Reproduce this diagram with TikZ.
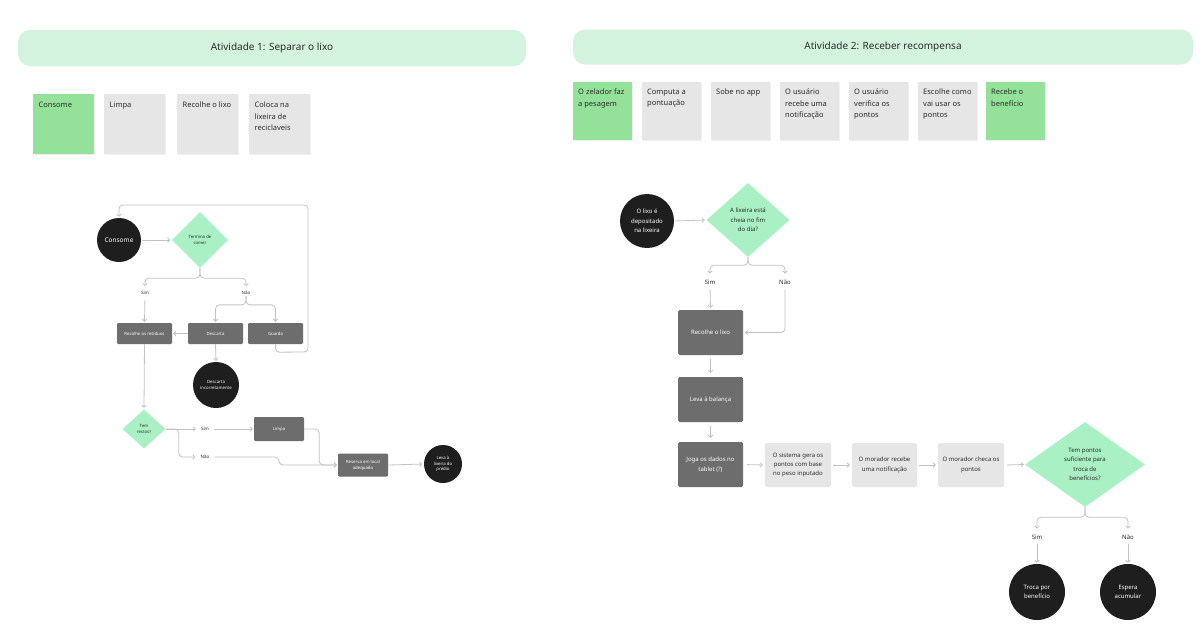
\documentclass[tikz,border=0pt]{standalone}
\usepackage{fontspec}
\setmainfont{Noto Sans}
\usetikzlibrary{arrows.meta,shapes.geometric,shadows}
\definecolor{hdrc}{HTML}{D3F3DE}
\definecolor{stgreen}{HTML}{94E29A}
\definecolor{stgrey}{HTML}{E6E6E6}
\definecolor{dboxc}{HTML}{6D6D6D}
\definecolor{blkc}{HTML}{1E1E1E}
\definecolor{diac}{HTML}{A9F0C4}
\definecolor{connc}{HTML}{C2C2C2}
\definecolor{txtc}{HTML}{2B2B2B}
\begin{document}
\begin{tikzpicture}[x=1pt,y=-1pt,
  hdr/.style={fill=hdrc, rounded corners=12pt, text=txtc, font=\fontsize{10}{12}\selectfont, inner sep=0pt},
  sticky/.style={anchor=north west, inner xsep=5pt, inner ysep=7pt, text=txtc,
     font=\fontsize{7.5}{11.3}\selectfont,
     drop shadow={opacity=0.12,shadow xshift=0.6pt,shadow yshift=-0.8pt}},
  dboxL/.style={rectangle, fill=dboxc, text=white, rounded corners=1.2pt, inner sep=0.5pt, align=center, font=\fontsize{4.3}{5.8}\selectfont},
  dboxR/.style={rectangle, fill=dboxc, text=white, rounded corners=1.5pt, inner sep=1pt, align=center, font=\fontsize{6}{9.4}\selectfont},
  lboxR/.style={rectangle, fill=stgrey, text=txtc, rounded corners=1.5pt, inner sep=1pt, align=center, font=\fontsize{6}{9.4}\selectfont},
  circL/.style={circle, fill=blkc, text=white, inner sep=0pt, align=center, font=\fontsize{4.3}{5.8}\selectfont},
  circR/.style={circle, fill=blkc, text=white, inner sep=0pt, align=center, font=\fontsize{6}{9.4}\selectfont},
  diaL/.style={diamond, fill=diac, text=txtc, inner sep=0pt, align=center, font=\fontsize{4.3}{5.8}\selectfont\bfseries},
  diaR/.style={diamond, fill=diac, text=txtc, inner sep=0pt, align=center, font=\fontsize{6}{9.4}\selectfont},
  lblL/.style={inner sep=1pt, text=txtc, font=\fontsize{4.5}{5.5}\selectfont\bfseries},
  lblR/.style={inner sep=1pt, text=txtc, font=\fontsize{6}{7}\selectfont},
  con/.style={draw=connc, line width=0.8pt, rounded corners=4pt, -{Straight Barb[length=2.2pt,width=4.5pt]}},
]
\useasboundingbox[fill=white] (0,0) rectangle (1200,637);

% ---------- headers ----------
\node[hdr, minimum width=508pt, minimum height=36pt] (h1) at (272,48) {Atividade 1: Separar o lixo};
\node[hdr, minimum width=620pt, minimum height=35pt] (h2) at (883,47) {Atividade 2: Receber recompensa};

% ---------- sticky notes, activity 1 ----------
\node[sticky, fill=stgreen, minimum width=61pt, minimum height=60pt] (a1) at (33,94) {\parbox[t][44pt][t]{50pt}{\raggedright Consome}};
\node[sticky, fill=stgrey, minimum width=61pt, minimum height=60pt] (a2) at (104,94) {\parbox[t][44pt][t]{50pt}{\raggedright Limpa}};
\node[sticky, fill=stgrey, minimum width=61pt, minimum height=60pt] (a3) at (177,94) {\parbox[t][44pt][t]{50pt}{\raggedright Recolhe o lixo}};
\node[sticky, fill=stgrey, minimum width=61pt, minimum height=60pt] (a4) at (249,94) {\parbox[t][44pt][t]{50pt}{\raggedright Coloca na\\ lixeira de\\ reciclaveis}};

% ---------- sticky notes, activity 2 ----------
\node[sticky, fill=stgreen, minimum width=59pt, minimum height=58pt] (b1) at (573,82) {\parbox[t][44pt][t]{49pt}{\raggedright O zelador faz\\ a pesagem}};
\node[sticky, fill=stgrey, minimum width=59pt, minimum height=58pt] (b2) at (642,82) {\parbox[t][44pt][t]{49pt}{\raggedright Computa a\\ pontuação}};
\node[sticky, fill=stgrey, minimum width=59pt, minimum height=58pt] (b3) at (711,82) {\parbox[t][44pt][t]{49pt}{\raggedright Sobe no app}};
\node[sticky, fill=stgrey, minimum width=59pt, minimum height=58pt] (b4) at (780,82) {\parbox[t][44pt][t]{49pt}{\raggedright O usuário\\ recebe uma\\ notificação}};
\node[sticky, fill=stgrey, minimum width=59pt, minimum height=58pt] (b5) at (849,82) {\parbox[t][44pt][t]{49pt}{\raggedright O usuário\\ verifica os\\ pontos}};
\node[sticky, fill=stgrey, minimum width=59pt, minimum height=58pt] (b6) at (918,82) {\parbox[t][44pt][t]{49pt}{\raggedright Escolhe como\\ vai usar os\\ pontos}};
\node[sticky, fill=stgreen, minimum width=59pt, minimum height=58pt] (b7) at (986,82) {\parbox[t][44pt][t]{49pt}{\raggedright Recebe o\\ benefício}};

% ---------- flowchart 1 ----------
\node[circL, minimum size=44pt, font=\fontsize{6.5}{8}\selectfont\bfseries] (c1) at (119,240) {Consome};
\node[diaL, minimum width=56pt, minimum height=56pt] (d1) at (200,240) {Termina de\\ comer};
\node[lblL] (s1) at (145,293) {Sim};
\node[lblL] (n1) at (246,293) {Não};
\node[dboxL, minimum width=55pt, minimum height=21pt] (rec1) at (144.5,333.5) {Recolhe os resíduos};
\node[dboxL, minimum width=55pt, minimum height=21pt] (desc) at (215.5,333.5) {Descarta};
\node[dboxL, minimum width=55pt, minimum height=21pt] (guarda) at (275.5,333.5) {Guarda};
\node[circL, minimum size=46pt] (inc) at (216,385) {Descarta\\ incorretamente};
\node[diaL, minimum width=43pt, minimum height=39pt] (d2) at (144,429) {Tem\\ restos?};
\node[lblL] (s2) at (205,429) {Sim};
\node[lblL] (n2) at (205,457) {Não};
\node[dboxL, minimum width=50pt, minimum height=24pt] (limpa) at (279,429) {Limpa};
\node[dboxL, minimum width=50pt, minimum height=23pt] (res) at (363,465) {Reserva em local\\ adequado};
\node[circL, minimum size=38pt] (leva) at (443,464) {Leva à\\ lixeira do\\ prédio};

\draw[con, shorten <=1pt, shorten >=1.5pt] (c1.east) -- (d1.west);
\draw[con, shorten >=1pt] (guarda.south) -- ++(0,8) -- (308,352) -- (308,205) -- (c1.north |- 0,205) -- (c1.north);
\draw[con, shorten >=4pt] (d1.south) -- ++(0,10) -| (s1.north);
\draw[con, shorten >=4pt] (d1.south) -- ++(0,10) -| (n1.north);
\draw[con, shorten <=4pt, shorten >=1pt] (s1.south) -- (rec1.north);
\draw[con, shorten >=1pt] (n1.south) -- ++(0,9) -| (desc.north);
\draw[con, shorten >=1pt] (n1.south) -- ++(0,9) -| (guarda.north);
\draw[con, shorten >=1pt] (desc.west) -- (rec1.east);
\draw[con, shorten >=1pt] (desc.south) -- (inc.north);
\draw[con, shorten >=1.5pt] (rec1.south) -- (d2.north);
\draw[con, shorten >=4pt] (d2.east) -- (s2.west);
\draw[con, shorten >=4pt] (d2.east) -- ++(13,0) |- (n2.west);
\draw[con, shorten <=4pt, shorten >=1pt] (s2.east) -- (limpa.west);
\draw[con, shorten >=1pt] (limpa.east) -- ++(15,0) |- (res.west);
\draw[con, shorten <=4pt, shorten >=1pt] (n2.east) -- (279,457) |- (res.west);
\draw[con, shorten >=1.5pt] (res.east) -- (leva.west);

% ---------- flowchart 2 ----------
\node[circR, minimum size=54pt, font=\fontsize{6}{9.4}\selectfont\bfseries] (c2) at (647,221) {O lixo é\\ depositado\\ na lixeira};
\node[diaR, minimum width=83pt, minimum height=74pt] (d3) at (748,220) {A lixeira está\\ cheia no fim\\ do dia?};
\node[lblR] (s3) at (710,282) {Sim};
\node[lblR] (n3) at (785,282) {Não};
\node[dboxR, minimum width=65pt, minimum height=45pt] (rec2) at (710.5,332.5) {Recolhe o lixo};
\node[dboxR, minimum width=65pt, minimum height=45pt] (leva2) at (710.5,399.5) {Leva à balança};
\node[dboxR, minimum width=65pt, minimum height=45pt] (joga) at (710.5,464.5) {Joga os dados no\\ tablet (?)};
\node[lboxR, minimum width=66pt, minimum height=44pt] (sist) at (798,465) {O sistema gera os\\ pontos com base\\ no peso inputado};
\node[lboxR, minimum width=65pt, minimum height=44pt] (mrec) at (884.5,465) {O morador recebe\\ uma notificação};
\node[lboxR, minimum width=66pt, minimum height=44pt] (mchk) at (971,465) {O morador checa os\\ pontos};
\node[diaR, minimum width=120pt, minimum height=85pt] (d4) at (1085,464.5) {Tem pontos\\ suficiente para\\ troca de\\ benefícios?};
\node[lblR] (s4) at (1037,537) {Sim};
\node[lblR] (n4) at (1128,537) {Não};
\node[circR, minimum size=56pt] (troca) at (1037,592) {Troca por\\ benefício};
\node[circR, minimum size=56pt] (esp) at (1128,592) {Espera\\ acumular};

\draw[con, shorten <=1pt, shorten >=1.5pt] (c2.east) -- (d3.west);
\draw[con, shorten >=5pt] (d3.south) -- ++(0,8) -| (s3.north);
\draw[con, shorten >=5pt] (d3.south) -- ++(0,8) -| (n3.north);
\draw[con, shorten <=4pt, shorten >=2pt] (s3.south) -- (rec2.north);
\draw[con, shorten <=4pt, shorten >=2pt] (n3.south) |- (rec2.east);
\draw[con, shorten <=4pt, shorten >=4pt] (rec2.south) -- (leva2.north);
\draw[con, shorten <=4pt, shorten >=4pt] (leva2.south) -- (joga.north);
\draw[con, shorten <=4pt, shorten >=2pt] (joga.east) -- (sist.west);
\draw[con, shorten <=2pt, shorten >=2pt] (sist.east) -- (mrec.west);
\draw[con, shorten <=2pt, shorten >=2pt] (mrec.east) -- (mchk.west);
\draw[con, shorten <=3pt, shorten >=1pt] (mchk.east) -- (d4.west);
\draw[con, shorten >=5pt] (d4.south) -- ++(0,10) -| (s4.north);
\draw[con, shorten >=5pt] (d4.south) -- ++(0,10) -| (n4.north);
\draw[con, shorten <=4pt, shorten >=1pt] (s4.south) -- (troca.north);
\draw[con, shorten <=4pt, shorten >=1pt] (n4.south) -- (esp.north);
\end{tikzpicture}
\end{document}
